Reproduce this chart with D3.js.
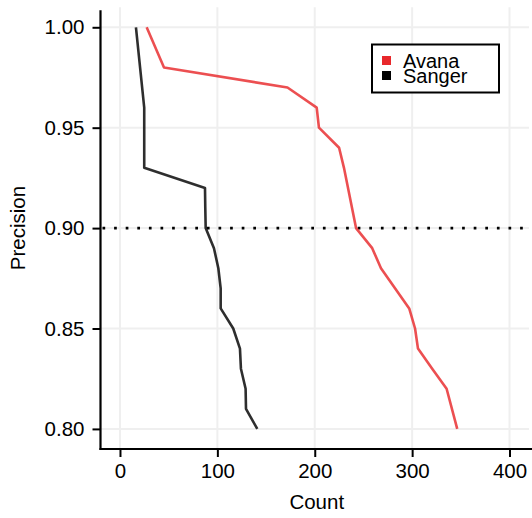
<!DOCTYPE html>
<html>
<head>
<meta charset="utf-8">
<script src="https://cdn.jsdelivr.net/npm/d3@7"></script>
<style>
  html, body { margin: 0; padding: 0; background: #fff; }
  svg { display: block; font-family: "Liberation Sans", Arial, Helvetica, sans-serif; }
</style>
</head>
<body>
<svg id="chart" width="532" height="518"></svg>
<script>
// Precision levels and the count reached at each level, per library
const avanaPrecision = [1.00, 0.98, 0.97, 0.96, 0.95, 0.94, 0.93, 0.90, 0.89, 0.88, 0.86, 0.85, 0.84, 0.83, 0.82, 0.80];
const avanaCount     = [27.4, 45.2, 172.0, 202.0, 204.3, 225.0, 230.0, 242.4, 259.0, 268.0, 297.0, 303.0, 306.0, 320.6, 335.4, 346.3];

const sangerPrecision = [1.00, 0.96, 0.93, 0.92, 0.91, 0.90, 0.89, 0.88, 0.87, 0.86, 0.85, 0.84, 0.83, 0.82, 0.81, 0.80];
const sangerCount     = [16.4, 24.9, 24.9, 87.3, 87.6, 88.0, 96.5, 101.0, 103.4, 103.4, 116.3, 123.2, 124.2, 129.0, 129.4, 141.0];

const seriesNames = ["Avana", "Sanger"];
const xTicks = [0, 100, 200, 300, 400];
const yTicks = [0.80, 0.85, 0.90, 0.95, 1.00];
const threshold = 0.90;

const series = [
  { name: seriesNames[0], color: "#e8282b", values: avanaPrecision.map((p, i) => ({ p, c: avanaCount[i] })) },
  { name: seriesNames[1], color: "#000000", values: sangerPrecision.map((p, i) => ({ p, c: sangerCount[i] })) }
];

const svg = d3.select("#chart");
const panel = { left: 100.5, right: 529, top: 7.2, bottom: 449 };

const x = d3.scaleLinear().domain([-20, 420]).range([panel.left, panel.right]);
const y = d3.scaleLinear().domain([0.79, 1.01]).range([panel.bottom, panel.top]);

// grid
const grid = svg.append("g");
grid.selectAll("line.vx").data(xTicks).join("line")
  .attr("x1", d => x(d)).attr("x2", d => x(d))
  .attr("y1", panel.top).attr("y2", panel.bottom)
  .attr("stroke", "#efefef").attr("stroke-width", 2);
grid.selectAll("line.hy").data(yTicks).join("line")
  .attr("x1", panel.left).attr("x2", panel.right)
  .attr("y1", d => y(d)).attr("y2", d => y(d))
  .attr("stroke", "#efefef").attr("stroke-width", 2);

// threshold line
svg.append("line")
  .attr("x1", panel.left + 2).attr("x2", panel.right)
  .attr("y1", y(threshold)).attr("y2", y(threshold))
  .attr("stroke", "#000").attr("stroke-width", 2.7)
  .attr("stroke-dasharray", "2.7 8.9");

// series lines
const line = d3.line().x(d => x(d.c)).y(d => y(d.p));
svg.append("g").selectAll("path").data(series).join("path")
  .attr("d", d => line(d.values))
  .attr("fill", "none")
  .attr("stroke", d => d.color)
  .attr("stroke-opacity", 0.82)
  .attr("stroke-width", 2.6)
  .attr("stroke-linejoin", "round");

// axes
const xAxis = d3.axisBottom(x).tickValues(xTicks).tickSize(8).tickPadding(6).tickFormat(d3.format("d"));
const yAxis = d3.axisLeft(y).tickValues(yTicks).tickSize(8).tickPadding(8).tickFormat(d3.format(".2f"));

const gx = svg.append("g").attr("transform", `translate(0,${panel.bottom})`).call(xAxis);
const gy = svg.append("g").attr("transform", `translate(${panel.left},0)`).call(yAxis);

[gx, gy].forEach(g => {
  g.select(".domain").remove();
  g.selectAll(".tick line").attr("stroke", "#000").attr("stroke-width", 2);
  g.selectAll(".tick text").attr("fill", "#000").style("font-size", "20.5px");
});

svg.append("line")
  .attr("x1", panel.left - 1).attr("x2", panel.right + 3)
  .attr("y1", panel.bottom).attr("y2", panel.bottom)
  .attr("stroke", "#000").attr("stroke-width", 2.2);
svg.append("line")
  .attr("x1", panel.left).attr("x2", panel.left)
  .attr("y1", panel.top + 3).attr("y2", panel.bottom + 1)
  .attr("stroke", "#000").attr("stroke-width", 2.2);

// axis titles
svg.append("text")
  .attr("x", (panel.left + panel.right) / 2 + 2).attr("y", 509)
  .attr("text-anchor", "middle").style("font-size", "20.5px")
  .text("Count");
svg.append("text")
  .attr("transform", `translate(25,${(panel.top + panel.bottom) / 2}) rotate(-90)`)
  .attr("text-anchor", "middle").style("font-size", "20.5px")
  .text("Precision");

// legend
const legend = svg.append("g");
legend.append("rect")
  .attr("x", 372).attr("y", 44.5).attr("width", 127).attr("height", 48)
  .attr("fill", "#fff").attr("stroke", "#000").attr("stroke-width", 2);
const rows = legend.selectAll("g.row").data(series).join("g")
  .attr("transform", (d, i) => `translate(382,${60.5 + i * 15})`);
rows.append("rect")
  .attr("x", 0).attr("y", -4.5).attr("width", 9).attr("height", 9)
  .attr("fill", d => d.color);
rows.append("text")
  .attr("x", 21).attr("y", 7)
  .style("font-size", "20px")
  .text(d => d.name);
</script>
</body>
</html>
